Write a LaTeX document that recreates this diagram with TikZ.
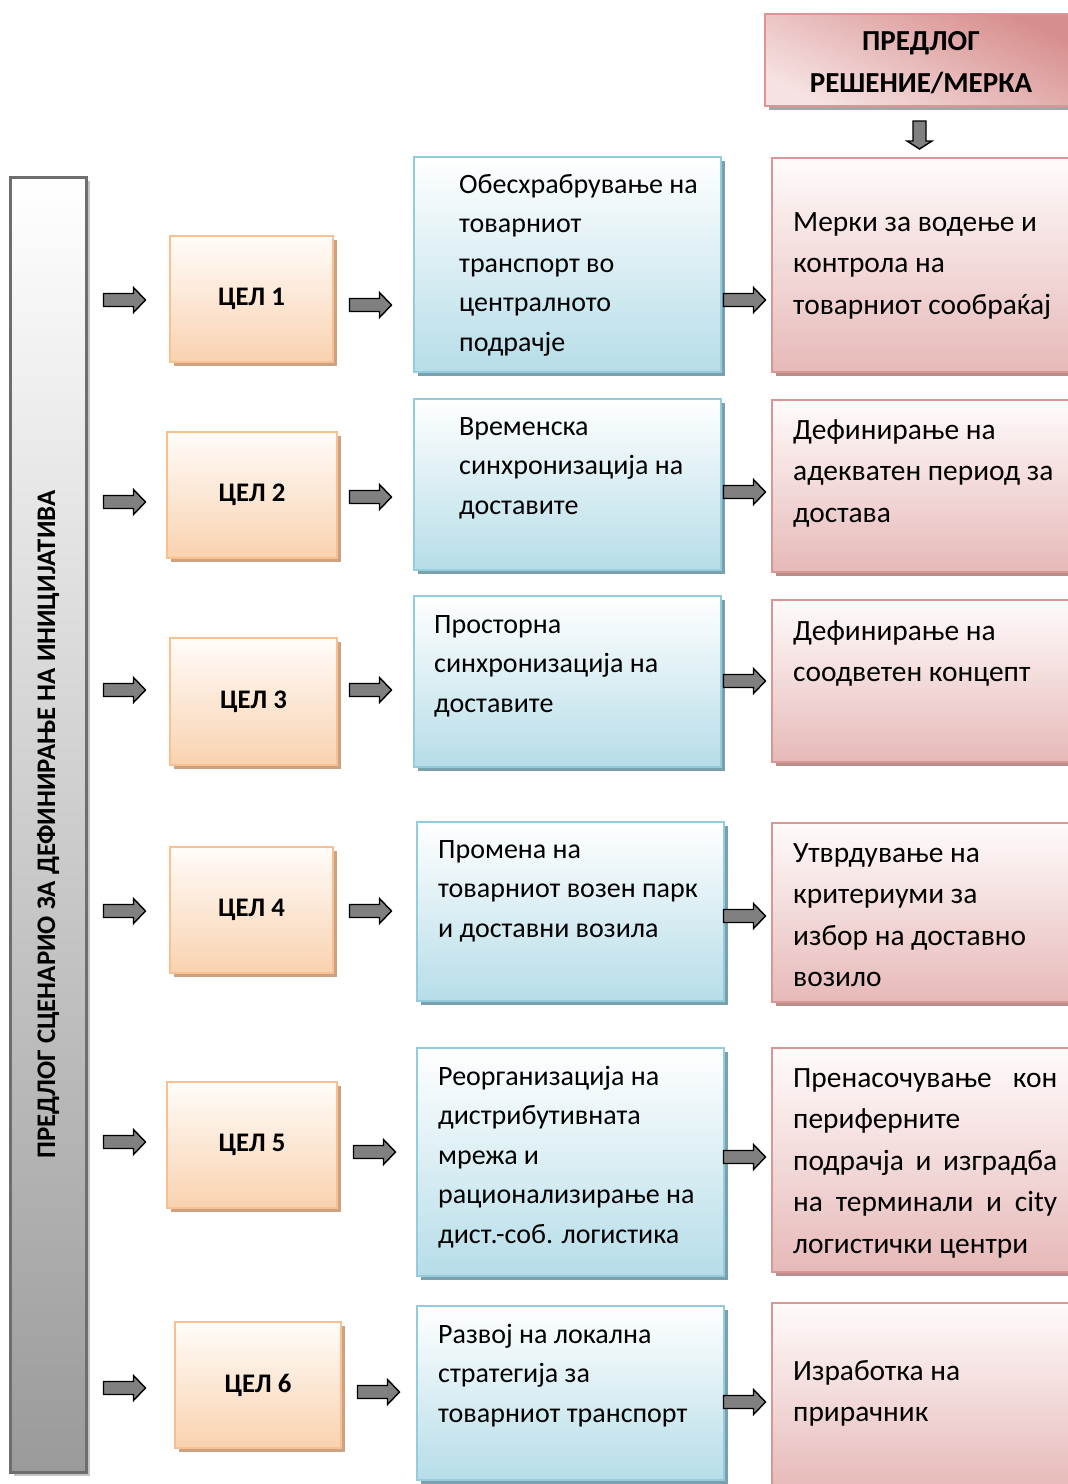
\documentclass[tikz,border=0pt]{standalone}
\usepackage{fontspec}
\setmainfont{Carlito}
\usetikzlibrary{calc,shadows}

\definecolor{arrgray}{HTML}{808080}
\definecolor{orgline}{HTML}{FAC090}
\definecolor{orgtop}{HTML}{FFFCF9}
\definecolor{orgbot}{HTML}{F9D2B0}
\definecolor{orgshade}{HTML}{CDA282}
\definecolor{blueline}{HTML}{93CDDD}
\definecolor{bluetop}{HTML}{FFFFFF}
\definecolor{bluebot}{HTML}{B6DDE8}
\definecolor{blueshade}{HTML}{7AA0AD}
\definecolor{redline}{HTML}{D99694}
\definecolor{redtop}{HTML}{FFFBFB}
\definecolor{redbot}{HTML}{E6B9B8}
\definecolor{redshade}{HTML}{B88E8D}
\definecolor{headdark}{HTML}{D78F8E}
\definecolor{headlight}{HTML}{F6E2E2}
\definecolor{barline}{HTML}{6E6E6E}
\definecolor{barmid}{HTML}{DCDCDC}
\definecolor{barbot}{HTML}{9A9A9A}

\tikzset{
  panel/.style={rectangle, inner sep=0pt, line width=2pt},
  celbox/.style={panel, draw=orgline, top color=orgtop, bottom color=orgbot,
    drop shadow={shadow xshift=4pt, shadow yshift=-4pt, fill=orgshade, opacity=1},
    font=\fontsize{26.8}{30}\selectfont\bfseries},
  goalbox/.style={panel, draw=blueline, top color=bluetop, bottom color=bluebot,
    drop shadow={shadow xshift=4pt, shadow yshift=-4pt, fill=blueshade, opacity=1}},
  measbox/.style={panel, draw=redline, top color=redtop, bottom color=redbot,
    drop shadow={shadow xshift=4pt, shadow yshift=-4pt, fill=redshade, opacity=1}},
  headbox/.style={panel, draw=redline, top color=headdark, bottom color=headlight,
    shading angle=-25,
    drop shadow={shadow xshift=4pt, shadow yshift=-4pt, fill=gray!70, opacity=1}},
  barbox/.style={panel, draw=barline, line width=3pt, top color=white,
    middle color=barmid, bottom color=barbot,
    drop shadow={shadow xshift=4pt, shadow yshift=-4pt, fill=gray!45, opacity=1}},
  % anchored at the baseline of the last line
  txt/.style={inner sep=0pt, anchor=base west, align=left,
    font=\fontsize{28}{39.5}\selectfont},
  txtr/.style={txt, font=\fontsize{29.4}{41.5}\selectfont},
  blockarrow/.pic={
    \draw[fill=arrgray, line width=1.4pt, line join=miter]
      (-21,-6.5) -- (9,-6.5) -- (9,-12.5) -- (21,0) -- (9,12.5) -- (9,6.5) -- (-21,6.5) -- cycle;
  }
}

\begin{document}
\begin{tikzpicture}[x=1pt, y=-1pt]
\useasboundingbox (0,0) rectangle (1068,1484);

% vertical scenario bar
\node[barbox, minimum width=76pt, minimum height=1295pt] (bar) at (48,824.5) {};
\node[rotate=90, font=\fontsize{26.8}{30}\selectfont\bfseries, inner sep=0pt] (bartxt) at (bar.center)
  {ПРЕДЛОГ СЦЕНАРИО ЗА ДЕФИНИРАЊЕ НА ИНИЦИЈАТИВА};

% header of the measures column
\node[headbox, minimum width=307pt, minimum height=92pt] (head) at (918.5,60) {};
\node[font=\fontsize{29}{42}\selectfont\bfseries, align=center, inner sep=0pt] (headtxt) at (921,63)
  {ПРЕДЛОГ\\РЕШЕНИЕ/МЕРКА};
\draw[fill=arrgray, line width=1.4pt, line join=miter]
  (913,121) -- (926,121) -- (926,141) -- (932,141) -- (919.5,149) -- (907,141) -- (913,141) -- cycle;

% goals
\node[celbox, minimum width=163pt, minimum height=126pt] (c1) at (251.5,299) {ЦЕЛ 1};
\node[celbox, minimum width=170pt, minimum height=126pt] (c2) at (252,495) {ЦЕЛ 2};
\node[celbox, minimum width=167pt, minimum height=127pt] (c3) at (253.5,701.5) {ЦЕЛ 3};
\node[celbox, minimum width=163pt, minimum height=126pt] (c4) at (251.5,910) {ЦЕЛ 4};
\node[celbox, minimum width=170pt, minimum height=126pt] (c5) at (252,1145) {ЦЕЛ 5};
\node[celbox, minimum width=166pt, minimum height=126pt] (c6) at (258,1385) {ЦЕЛ 6};

% goal descriptions
\node[goalbox, minimum width=307pt, minimum height=215pt] (b1) at (567.5,264.5) {};
\node[goalbox, minimum width=307pt, minimum height=171pt] (b2) at (567.5,484.5) {};
\node[goalbox, minimum width=307pt, minimum height=171pt] (b3) at (567.5,681.5) {};
\node[goalbox, minimum width=307pt, minimum height=179pt] (b4) at (570.5,911.5) {};
\node[goalbox, minimum width=307pt, minimum height=228pt] (b5) at (570.5,1162) {};
\node[goalbox, minimum width=307pt, minimum height=174pt] (b6) at (570.5,1393) {};

% proposed measures
\node[measbox, minimum width=300pt, minimum height=214pt] (r1) at (922,265) {};
\node[measbox, minimum width=300pt, minimum height=172pt] (r2) at (922,486) {};
\node[measbox, minimum width=300pt, minimum height=162pt] (r3) at (922,681) {};
\node[measbox, minimum width=300pt, minimum height=179pt] (r4) at (922,912.5) {};
\node[measbox, minimum width=300pt, minimum height=224pt] (r5) at (922,1160) {};
\node[measbox, minimum width=300pt, minimum height=187pt] (r6) at (922,1396.5) {};

% texts of the goal descriptions
\node[txt] (b1t) at (459,351) {Обесхрабрување на\\товарниот\\транспорт во\\централното\\подрачје};
\node[txt] (b2t) at (459,514) {Временска\\синхронизација на\\доставите};
\node[txt] (b3t) at (434,712) {Просторна\\синхронизација на\\доставите};
\node[txt] (b4t) at (438,937) {Промена на\\товарниот возен парк\\и доставни возила};
\node[txt] (b5t) at (438,1243) {Реорганизација на\\дистрибутивната\\мрежа и\\рационализирање на\\дист.-соб. логистика};
\node[txt] (b6t) at (438,1422) {Развој на локална\\стратегија за\\товарниот транспорт};

% texts of the measures
\node[txtr] (r1t) at (793,314) {Мерки за водење и\\контрола на\\товарниот сообраќај};
\node[txtr] (r2t) at (793,522) {Дефинирање на\\адекватен период за\\достава};
\node[txtr] (r3t) at (793,681.5) {Дефинирање на\\соодветен концепт};
\node[txtr] (r4t) at (793,986.5) {Утврдување на\\критериуми за\\избор на доставно\\возило};
\node[txtr] (r5t) at (793,1253) {\makebox[264pt][s]{Пренасочување кон}\\периферните\\\makebox[264pt][s]{подрачја и изградба}\\\makebox[264pt][s]{на терминали и city}\\логистички центри};
\node[txtr] (r6t) at (793,1421.5) {Изработка на\\прирачник};

% block arrows
\foreach \y in {300,502,690,911,1142,1388} \pic at (124.5,\y) {blockarrow};
\foreach \x/\y in {370.5/305,370.5/497,370.5/690,370.5/911,374.5/1152,378.5/1392} \pic at (\x,\y) {blockarrow};
\foreach \y in {300,492,681,916,1157,1402} \pic at (744.5,\y) {blockarrow};
\end{tikzpicture}
\end{document}
